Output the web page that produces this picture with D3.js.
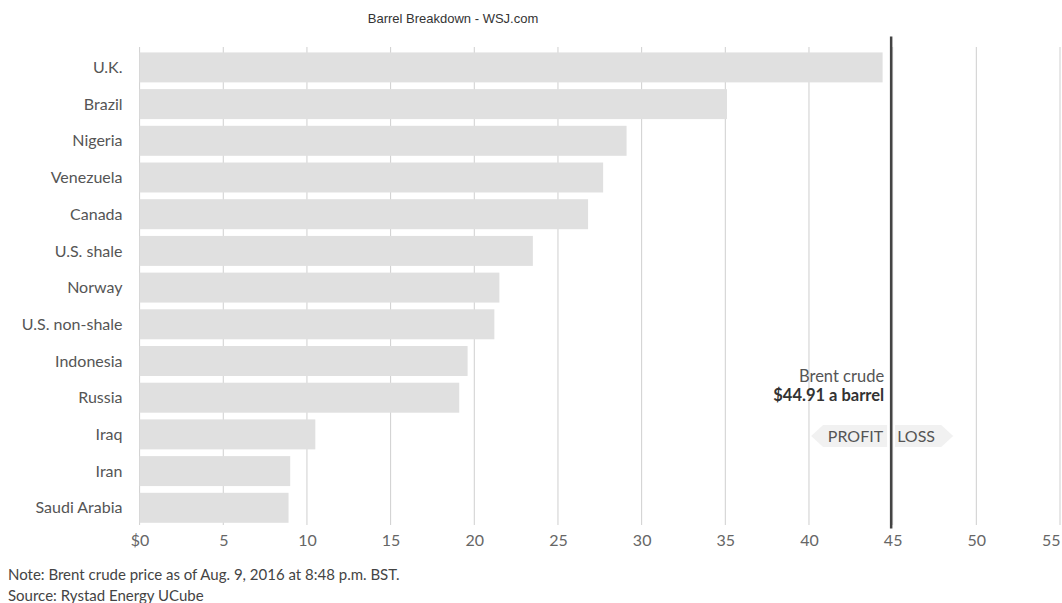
<!DOCTYPE html>
<html>
<head>
<meta charset="utf-8">
<script src="https://cdn.jsdelivr.net/npm/d3@7"></script>
<style>
  html, body { margin: 0; padding: 0; background: #fff; }
  svg { display: block; }
</style>
</head>
<body>
<svg id="chart" width="1062" height="603"></svg>
<script>
const countries = ["U.K.", "Brazil", "Nigeria", "Venezuela", "Canada", "U.S. shale", "Norway",
  "U.S. non-shale", "Indonesia", "Russia", "Iraq", "Iran", "Saudi Arabia"];
const costs = [44.4, 35.1, 29.1, 27.7, 26.8, 23.5, 21.5, 21.2, 19.6, 19.1, 10.5, 9.0, 8.9];
const tickValues = [0, 5, 10, 15, 20, 25, 30, 35, 40, 45, 50, 55];
const tickLabels = ["$0", "5", "10", "15", "20", "25", "30", "35", "40", "45", "50", "55"];
const brentPrice = 44.91;
const titleText = "Barrel Breakdown - WSJ.com";
const annotationLines = ["Brent crude", "$44.91 a barrel"];
const profitLoss = ["PROFIT", "LOSS"];
const notes = ["Note: Brent crude price as of Aug. 9, 2016 at 8:48 p.m. BST.", "Source: Rystad Energy UCube"];

const svg = d3.select("#chart");
const font = "Lato, 'Open Sans', sans-serif";

const x = d3.scaleLinear().domain([0, 55]).range([139.6, 1060]);
const y = d3.scaleBand().domain(countries).range([45.7, 529.5]).paddingInner(0.183).paddingOuter(0.183);

// title
svg.append("text")
  .attr("x", 453).attr("y", 23)
  .attr("text-anchor", "middle")
  .attr("font-family", "'Liberation Sans', Arial, sans-serif")
  .attr("font-size", 13)
  .attr("fill", "#333")
  .text(titleText);

// gridlines
svg.append("g").selectAll("line").data(tickValues).join("line")
  .attr("x1", d => x(d)).attr("x2", d => x(d))
  .attr("y1", 47).attr("y2", 525)
  .attr("stroke", "#cfcfcf").attr("stroke-width", 1);

// bars
svg.append("g").selectAll("rect").data(countries).join("rect")
  .attr("x", x(0))
  .attr("y", d => y(d))
  .attr("width", (d, i) => x(costs[i]) - x(0))
  .attr("height", y.bandwidth())
  .attr("fill", "#e0e0e0");

// country labels
svg.append("g").selectAll("text").data(countries).join("text")
  .attr("x", 122.5)
  .attr("y", d => y(d) + y.bandwidth() / 2)
  .attr("dy", "0.35em")
  .attr("text-anchor", "end")
  .attr("font-family", font)
  .attr("font-size", 16)
  .attr("fill", "#555")
  .text(d => d);

// x axis tick labels
const axis = d3.axisBottom(x).tickValues(tickValues).tickSize(0).tickPadding(0)
  .tickFormat((d, i) => tickLabels[i]);
const axG = svg.append("g").attr("transform", "translate(0,530)").call(axis);
axG.select(".domain").remove();
axG.selectAll("text")
  .attr("font-family", font)
  .attr("font-size", 16)
  .attr("fill", "#666")
  .attr("dy", "1em")
  .attr("text-anchor", (d, i) => i === tickValues.length - 1 ? "end" : "middle");

// profit / loss arrows
const ay = 436, ah = 11;
svg.append("path")
  .attr("d", `M${x(brentPrice) - 80},${ay} L${x(brentPrice) - 68},${ay - ah} L${x(brentPrice) - 4},${ay - ah} L${x(brentPrice) - 4},${ay + ah} L${x(brentPrice) - 68},${ay + ah} Z`)
  .attr("fill", "#f1f1f1");
svg.append("path")
  .attr("d", `M${x(brentPrice) + 62},${ay} L${x(brentPrice) + 50},${ay - ah} L${x(brentPrice) + 4},${ay - ah} L${x(brentPrice) + 4},${ay + ah} L${x(brentPrice) + 50},${ay + ah} Z`)
  .attr("fill", "#f1f1f1");

// brent line
svg.append("line")
  .attr("x1", x(brentPrice)).attr("x2", x(brentPrice))
  .attr("y1", 36.5).attr("y2", 528.5)
  .attr("stroke", "#444").attr("stroke-width", 2.5);

// annotation
svg.append("text")
  .attr("x", x(brentPrice) - 7).attr("y", 381.5)
  .attr("text-anchor", "end")
  .attr("font-family", font).attr("font-size", 16.5).attr("fill", "#555")
  .text(annotationLines[0]);
svg.append("text")
  .attr("x", x(brentPrice) - 7).attr("y", 400.5)
  .attr("text-anchor", "end")
  .attr("font-family", font).attr("font-size", 16.5).attr("font-weight", "bold").attr("fill", "#333")
  .text(annotationLines[1]);

svg.append("text")
  .attr("x", x(brentPrice) - 8).attr("y", 441.5)
  .attr("text-anchor", "end")
  .attr("font-family", font).attr("font-size", 16).attr("fill", "#555")
  .text(profitLoss[0]);
svg.append("text")
  .attr("x", x(brentPrice) + 6).attr("y", 441.5)
  .attr("text-anchor", "start")
  .attr("font-family", font).attr("font-size", 16).attr("fill", "#555")
  .text(profitLoss[1]);

// notes
svg.append("g").selectAll("text").data(notes).join("text")
  .attr("x", 8)
  .attr("y", (d, i) => 580 + i * 21)
  .attr("font-family", font)
  .attr("font-size", 15)
  .attr("fill", "#444")
  .text(d => d);
</script>
</body>
</html>
